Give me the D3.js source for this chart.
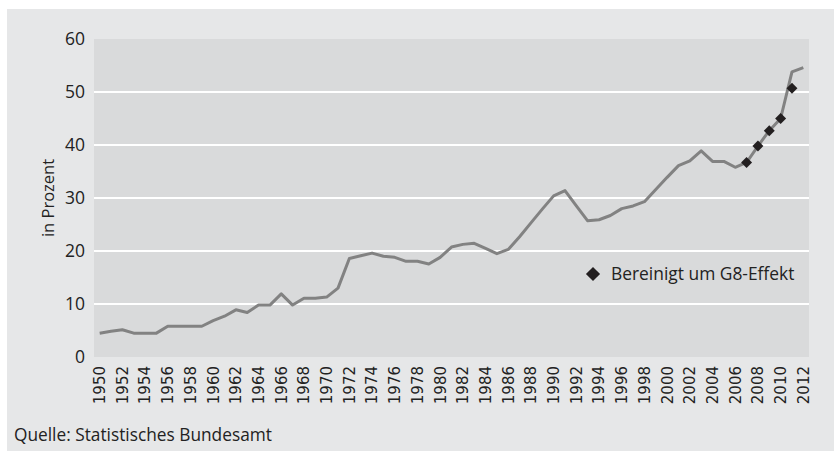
<!DOCTYPE html>
<html>
<head>
<meta charset="utf-8">
<script src="https://cdn.jsdelivr.net/npm/d3@7"></script>
<style>
  body { margin: 0; background: #fff; }
  svg { display: block; }
  text { font-family: "Open Sans", "Noto Sans", sans-serif; fill: #222; }
</style>
</head>
<body>
<svg id="chart" width="834" height="451"></svg>
<script>
// data
const years = d3.range(1950, 2013);
const quote = [4.5, 4.85, 5.15, 4.5, 4.5, 4.5, 5.8, 5.8, 5.8, 5.8,
  6.85, 7.7, 8.9, 8.4, 9.8, 9.8, 11.9, 9.8, 11.1, 11.1,
  11.3, 13.0, 18.6, 19.1, 19.6, 19.0, 18.8, 18.05, 18.05, 17.55,
  18.8, 20.75, 21.25, 21.45, 20.5, 19.5, 20.3, 22.7, 25.3, 27.9,
  30.4, 31.4, 28.5, 25.7, 25.9, 26.7, 28.0, 28.5, 29.3, 31.6,
  33.9, 36.1, 37.0, 38.9, 36.9, 36.9, 35.8, 36.7, 39.8, 42.7,
  45.0, 53.8, 54.6];
const g8Years = [2007, 2008, 2009, 2010, 2011];
const g8Values = [36.7, 39.8, 42.7, 45.0, 50.7];
const yTicks = [0, 10, 20, 30, 40, 50, 60];
const yTitle = "in Prozent";
const legendLabel = "Bereinigt um G8-Effekt";
const sourceLabel = "Quelle: Statistisches Bundesamt";

const svg = d3.select("#chart");

// outer grey panel
svg.append("rect").attr("x", 7).attr("y", 9).attr("width", 827).attr("height", 442).attr("fill", "#e6e7e8");

const plot = { left: 94, right: 809, top: 39, bottom: 357 };

const x = d3.scaleBand().domain(years).range([plot.left, plot.right]);
const y = d3.scaleLinear().domain([0, 60]).range([plot.bottom, plot.top]);

// plot area
svg.append("rect")
  .attr("x", plot.left).attr("y", plot.top)
  .attr("width", plot.right - plot.left).attr("height", plot.bottom - plot.top)
  .attr("fill", "#d9dadb");

// gridlines
svg.append("g").selectAll("line")
  .data(yTicks.filter(d => d > 0 && d < 60))
  .enter().append("line")
  .attr("x1", plot.left).attr("x2", plot.right)
  .attr("y1", d => y(d)).attr("y2", d => y(d))
  .attr("stroke", "#fff").attr("stroke-width", 2);

// y axis labels
const yAxis = svg.append("g")
  .attr("transform", `translate(${plot.left - 9},0)`)
  .call(d3.axisLeft(y).tickValues(yTicks).tickSize(0).tickPadding(0));
yAxis.select(".domain").remove();
yAxis.selectAll("text")
  .style("font-family", '"Open Sans", sans-serif')
  .style("font-size", "17.5px").attr("fill", "#222").attr("dy", "0.3em");

// x axis labels (every 2nd year, rotated)
const xAxis = svg.append("g")
  .attr("transform", `translate(0,${plot.bottom})`)
  .call(d3.axisBottom(x).tickValues(years.filter(d => d % 2 === 0)).tickSize(0).tickPadding(0));
xAxis.select(".domain").remove();
xAxis.selectAll("text")
  .style("font-family", '"DejaVu Sans", sans-serif')
  .style("font-size", "15px").attr("fill", "#222")
  .attr("transform", "rotate(-90)")
  .attr("text-anchor", "end")
  .attr("x", -9).attr("y", 0).attr("dy", "0.36em");

// y title
svg.append("text")
  .attr("transform", `translate(54,${(plot.top + plot.bottom) / 2}) rotate(-90)`)
  .attr("text-anchor", "middle")
  .style("font-size", "16.5px")
  .text(yTitle);

// main line
const line = d3.line()
  .x((d, i) => x(years[i]) + x.bandwidth() / 2)
  .y(d => y(d));

svg.append("path")
  .datum(quote)
  .attr("d", line)
  .attr("fill", "none")
  .attr("stroke", "#828282")
  .attr("stroke-width", 3)
  .attr("stroke-linejoin", "round");

// G8 markers
const diamond = d3.symbol().type(d3.symbolSquare).size(60);
svg.append("g").selectAll("path")
  .data(g8Values)
  .enter().append("path")
  .attr("d", diamond)
  .attr("transform", (d, i) => `translate(${x(g8Years[i]) + x.bandwidth() / 2},${y(d)}) rotate(45)`)
  .attr("fill", "#231f20");

// legend
svg.append("path")
  .attr("d", d3.symbol().type(d3.symbolSquare).size(100))
  .attr("transform", "translate(593,274) rotate(45)")
  .attr("fill", "#231f20");
svg.append("text")
  .attr("x", 611).attr("y", 274).attr("dy", "0.36em")
  .style("font-size", "17.4px")
  .text(legendLabel);

// source
svg.append("text")
  .attr("x", 14).attr("y", 441)
  .style("font-size", "17.3px")
  .text(sourceLabel);
</script>
</body>
</html>
